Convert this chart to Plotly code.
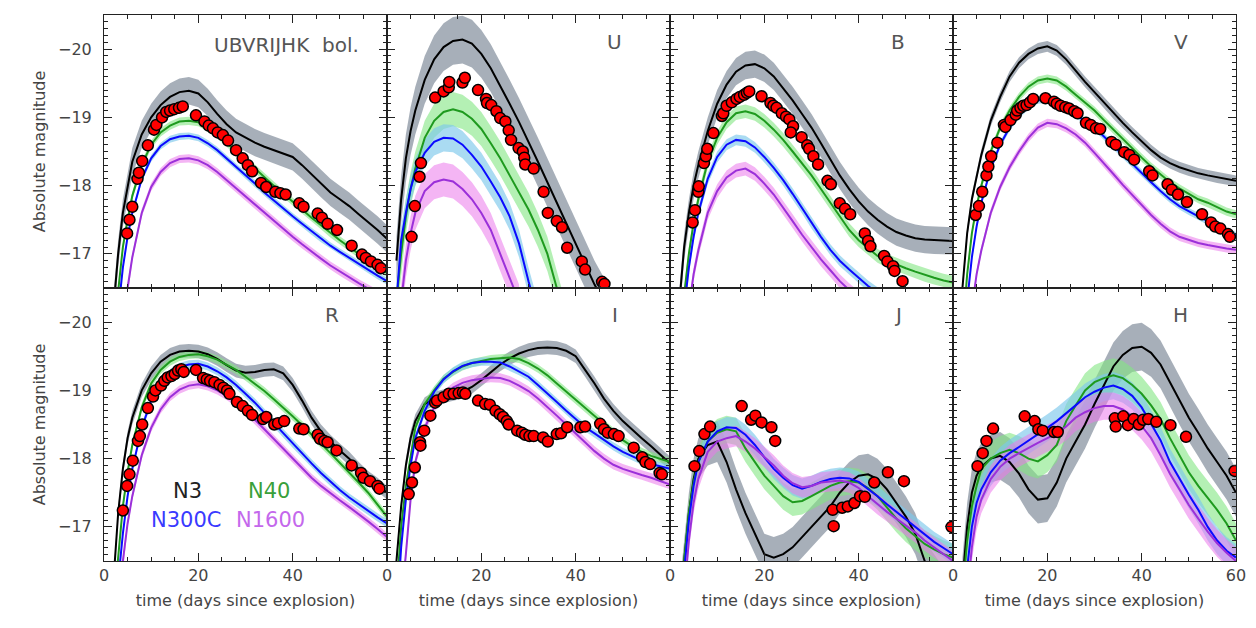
import plotly.graph_objects as go
from plotly.subplots import make_subplots

# model time grid (days since explosion)
days = [2, 3, 4, 5, 6, 8, 10, 12, 14, 16, 18, 20, 22, 24, 26, 28, 30, 32,
        34, 36, 38, 40, 42, 44, 46, 48, 50, 52, 54, 56, 58, 60]

# ---- model light curves (absolute magnitude) ----
bol_n3 = [-16.2, -17.0, -17.6, -18.0, -18.35, -18.75, -19.0, -19.18, -19.3, -19.37, -19.39, -19.35, -19.22, -19.05, -18.9, -18.78,
          -18.7, -18.63, -18.57, -18.52, -18.47, -18.42, -18.3, -18.17, -18.03, -17.9, -17.8, -17.7, -17.58, -17.47, -17.35, -17.22]
bol_n40 = [-15.8, -16.5, -17.1, -17.5, -17.85, -18.3, -18.6, -18.78, -18.88, -18.94, -18.95, -18.93, -18.85, -18.75, -18.63, -18.5,
           -18.38, -18.25, -18.12, -18.0, -17.88, -17.77, -17.65, -17.53, -17.42, -17.3, -17.2, -17.1, -17.0, -16.9, -16.8, -16.72]
bol_n300c = [-15.5, -16.2, -16.8, -17.25, -17.6, -18.1, -18.4, -18.58, -18.68, -18.72, -18.73, -18.7, -18.62, -18.52, -18.4, -18.28,
             -18.15, -18.03, -17.9, -17.78, -17.66, -17.55, -17.44, -17.33, -17.22, -17.12, -17.03, -16.94, -16.85, -16.77, -16.68, -16.6]
bol_n1600 = [-14.5, -15.3, -15.9, -16.5, -16.95, -17.6, -17.98, -18.2, -18.33, -18.39, -18.4, -18.37, -18.3, -18.2, -18.08, -17.96,
             -17.84, -17.72, -17.6, -17.48, -17.36, -17.25, -17.14, -17.03, -16.93, -16.83, -16.74, -16.65, -16.57, -16.49, -16.41, -16.34]

u_n3 = [-16.9, -17.8, -18.4, -18.8, -19.1, -19.55, -19.85, -20.03, -20.12, -20.14, -20.08, -19.93, -19.72, -19.47, -19.2, -18.93,
        -18.65, -18.35, -18.05, -17.75, -17.45, -17.15, -16.85, -16.55, -16.3, None, None, None, None, None, None, None]
u_n40 = [-16.3, -17.0, -17.55, -17.95, -18.25, -18.7, -18.95, -19.08, -19.12, -19.08, -18.98, -18.83, -18.62, -18.4, -18.15, -17.9,
         -17.65, -17.35, -17.0, -16.5, -16.0, None, None, None, None, None, None, None, None, None, None, None]
u_n300c = [-16.3, -17.2, -17.6, -17.95, -18.2, -18.48, -18.64, -18.7, -18.69, -18.6, -18.45, -18.28, -18.06, -17.83, -17.55, -17.15,
           -16.6, -16.1, None, None, None, None, None, None, None, None, None, None, None, None, None, None]
u_n1600 = [-15.2, -16.3, -16.9, -17.3, -17.6, -17.92, -18.05, -18.09, -18.06, -17.95, -17.8, -17.6, -17.35, -17.0, -16.65, -16.3,
           None, None, None, None, None, None, None, None, None, None, None, None, None, None, None, None]

b_n3 = [-16.3, -17.1, -17.6, -18.0, -18.3, -18.8, -19.2, -19.48, -19.67, -19.76, -19.78, -19.72, -19.6, -19.43, -19.25, -19.05,
        -18.85, -18.62, -18.38, -18.15, -17.95, -17.77, -17.62, -17.5, -17.4, -17.32, -17.27, -17.23, -17.21, -17.2, -17.19, -17.19]
b_n40 = [-15.6, -16.4, -17.0, -17.45, -17.8, -18.35, -18.7, -18.93, -19.06, -19.09, -19.05, -18.95, -18.82, -18.67, -18.5, -18.33,
         -18.15, -17.95, -17.75, -17.55, -17.35, -17.2, -17.08, -16.97, -16.9, -16.84, -16.79, -16.74, -16.69, -16.65, -16.61, -16.58]
b_n300c = [-15.3, -16.2, -16.8, -17.25, -17.6, -18.1, -18.42, -18.6, -18.67, -18.65, -18.56, -18.42, -18.26, -18.08, -17.88, -17.67,
           -17.45, -17.25, -17.06, -16.9, -16.77, -16.65, -16.53, -16.43, None, None, None, None, None, None, None, None]
b_n1600 = [-14.6, -15.6, -16.2, -16.7, -17.05, -17.6, -17.92, -18.12, -18.22, -18.25, -18.17, -18.03, -17.87, -17.68, -17.48, -17.28,
           -17.1, -16.92, -16.76, -16.6, -16.47, -16.35, None, None, None, None, None, None, None, None, None, None]

v_n3 = [-16.5, -17.3, -17.8, -18.15, -18.45, -18.95, -19.3, -19.6, -19.8, -19.93, -20.01, -20.04, -19.98, -19.85, -19.68, -19.52,
        -19.37, -19.22, -19.06, -18.92, -18.78, -18.65, -18.52, -18.41, -18.33, -18.27, -18.22, -18.18, -18.15, -18.12, -18.09, -18.07]
v_n40 = [-15.8, -16.7, -17.3, -17.7, -18.0, -18.5, -18.85, -19.1, -19.3, -19.45, -19.54, -19.57, -19.54, -19.45, -19.33, -19.22,
         -19.1, -18.96, -18.82, -18.68, -18.55, -18.41, -18.28, -18.16, -18.05, -17.96, -17.88, -17.8, -17.75, -17.68, -17.62, -17.58]
v_n300c = [-15.4, -16.3, -16.95, -17.4, -17.75, -18.25, -18.6, -18.85, -19.03, -19.17, -19.25, -19.26, -19.22, -19.14, -19.04, -18.95,
           -18.85, -18.72, -18.58, -18.45, -18.32, -18.18, -18.05, -17.92, -17.8, -17.7, -17.62, -17.55, -17.48, -17.4, -17.33, -17.27]
v_n1600 = [-14.5, -15.5, -16.2, -16.7, -17.05, -17.6, -17.98, -18.27, -18.5, -18.7, -18.85, -18.92, -18.9, -18.84, -18.75, -18.63,
           -18.48, -18.33, -18.17, -18.01, -17.86, -17.71, -17.57, -17.44, -17.33, -17.25, -17.2, -17.16, -17.13, -17.1, -17.08, -17.06]

r_n3 = [-16.2, -17.2, -17.85, -18.3, -18.6, -19.0, -19.25, -19.42, -19.52, -19.57, -19.58, -19.57, -19.53, -19.46, -19.37, -19.29,
        -19.26, -19.27, -19.3, -19.31, -19.25, -19.08, -18.85, -18.6, -18.4, -18.25, -18.12, -18.0, -17.85, -17.72, -17.62, -17.5]
r_n40 = [-15.8, -16.6, -17.3, -17.8, -18.2, -18.75, -19.1, -19.3, -19.42, -19.49, -19.52, -19.53, -19.5, -19.45, -19.38, -19.3,
         -19.2, -19.1, -18.99, -18.87, -18.75, -18.62, -18.49, -18.36, -18.22, -18.08, -17.94, -17.8, -17.65, -17.5, -17.33, -17.15]
r_n300c = [-15.3, -16.2, -16.9, -17.45, -17.85, -18.45, -18.85, -19.1, -19.25, -19.34, -19.38, -19.39, -19.35, -19.28, -19.19, -19.08,
           -18.95, -18.82, -18.67, -18.52, -18.37, -18.22, -18.07, -17.93, -17.79, -17.66, -17.54, -17.43, -17.33, -17.23, -17.14, -17.05]
r_n1600 = [-14.8, -15.7, -16.5, -17.05, -17.45, -18.05, -18.45, -18.72, -18.9, -19.01, -19.07, -19.09, -19.06, -19.0, -18.92, -18.82,
           -18.7, -18.57, -18.43, -18.29, -18.15, -18.0, -17.86, -17.72, -17.6, -17.49, -17.39, -17.29, -17.19, -17.08, -16.97, -16.85]

i_n3 = [-16.5, -17.3, -17.9, -18.3, -18.55, -18.8, -18.88, -18.92, -18.95, -18.98, -19.05, -19.15, -19.27, -19.38, -19.47, -19.54,
        -19.59, -19.62, -19.63, -19.62, -19.58, -19.5, -19.3, -19.1, -18.88, -18.7, -18.55, -18.42, -18.3, -18.18, -18.05, -17.93]
i_n40 = [-16.0, -17.0, -17.6, -18.05, -18.45, -18.8, -19.0, -19.17, -19.27, -19.35, -19.4, -19.43, -19.46, -19.47, -19.48, -19.46,
         -19.4, -19.32, -19.22, -19.1, -18.98, -18.86, -18.74, -18.62, -18.5, -18.38, -18.27, -18.18, -18.1, -18.04, -17.99, -17.95]
i_n300c = [-15.6, -16.7, -17.4, -17.9, -18.3, -18.7, -18.98, -19.16, -19.28, -19.36, -19.4, -19.42, -19.42, -19.41, -19.35, -19.28,
           -19.2, -19.08, -18.96, -18.83, -18.7, -18.58, -18.46, -18.37, -18.27, -18.18, -18.1, -18.03, -17.97, -17.92, -17.88, -17.85]
i_n1600 = [-14.8, -15.9, -16.6, -17.4, -17.95, -18.45, -18.75, -18.93, -19.04, -19.11, -19.15, -19.17, -19.19, -19.18, -19.14, -19.07,
           -18.99, -18.88, -18.76, -18.63, -18.5, -18.37, -18.24, -18.11, -18.0, -17.91, -17.85, -17.8, -17.76, -17.72, -17.67, -17.62]

j_n3 = [-15.8, -16.5, -17.2, -17.7, -18.0, -18.2, -18.25, -17.95, -17.55, -17.2, -16.9, -16.6, -16.55, -16.6, -16.7, -16.85,
        -17.0, -17.15, -17.3, -17.5, -17.65, -17.75, -17.77, -17.7, -17.55, -17.35, -17.15, -16.9, -16.5, -16.3, -16.1, -15.9]
j_n40 = [-15.8, -16.5, -17.2, -17.65, -17.95, -18.25, -18.38, -18.43, -18.4, -18.15, -17.95, -17.75, -17.6, -17.45, -17.36, -17.38,
         -17.45, -17.53, -17.6, -17.65, -17.67, -17.65, -17.57, -17.45, -17.28, -17.12, -16.98, -16.86, -16.75, -16.67, -16.6, -16.55]
j_n300c = [-15.6, -16.4, -17.1, -17.6, -17.95, -18.25, -18.4, -18.46, -18.45, -18.35, -18.2, -18.02, -17.85, -17.72, -17.61, -17.56,
           -17.6, -17.66, -17.7, -17.72, -17.71, -17.66, -17.56, -17.45, -17.33, -17.22, -17.11, -17.0, -16.88, -16.78, -16.69, -16.6]
j_n1600 = [-15.0, -16.0, -16.8, -17.35, -17.7, -18.1, -18.25, -18.3, -18.33, -18.25, -18.15, -18.03, -17.9, -17.75, -17.64, -17.58,
           -17.6, -17.65, -17.67, -17.68, -17.65, -17.57, -17.45, -17.33, -17.22, -17.12, -17.02, -16.92, -16.8, -16.7, -16.6, -16.5]

h_n3 = [-16.2, -17.0, -17.5, -17.75, -17.88, -18.0, -18.04, -17.95, -17.78, -17.55, -17.4, -17.42, -17.65, -18.0, -18.25, -18.5,
        -18.8, -19.08, -19.35, -19.52, -19.62, -19.64, -19.55, -19.38, -19.12, -18.85, -18.6, -18.38, -18.15, -17.95, -17.75, -17.5]
h_n40 = [-16.0, -16.8, -17.3, -17.6, -17.85, -18.0, -18.08, -18.13, -18.08, -18.0, -17.96, -18.05, -18.2, -18.55, -18.78, -19.0,
         -19.12, -19.18, -19.22, -19.18, -19.08, -18.95, -18.78, -18.58, -18.3, -18.05, -17.8, -17.6, -17.42, -17.25, -17.05, -16.8]
h_n300c = [-15.2, -16.4, -17.0, -17.35, -17.55, -17.8, -17.97, -18.08, -18.17, -18.26, -18.36, -18.45, -18.55, -18.66, -18.78, -18.9,
           -18.98, -19.04, -19.07, -19.02, -18.92, -18.75, -18.52, -18.27, -17.95, -17.7, -17.47, -17.25, -17.0, -16.8, -16.65, -16.55]
h_n1600 = [-14.8, -16.0, -16.7, -17.15, -17.4, -17.7, -17.88, -18.0, -18.08, -18.16, -18.23, -18.3, -18.37, -18.47, -18.6, -18.68,
           -18.74, -18.77, -18.77, -18.72, -18.62, -18.48, -18.3, -18.05, -17.78, -17.55, -17.32, -17.12, -16.93, -16.76, -16.62, -16.5]

# model scatter (half width in mag), order N3, N40, N300C, N1600
bol_err = [0.2, 0.06, 0.05, 0.06]
u_err = [0.35, 0.25, 0.2, 0.25]
b_err = [0.2, 0.1, 0.08, 0.1]
v_err = [0.08, 0.06, 0.05, 0.06]
r_err = [0.1, 0.06, 0.06, 0.06]
i_err = [0.1, 0.06, 0.06, 0.07]
j_err = [0.3, 0.2, 0.15, 0.15]
h_err = [0.35, 0.25, 0.2, 0.2]

# ---- observed photometry ----
bol_obs_t = [4.9, 5.4, 6.0, 7.1, 7.4, 8.1, 9.3, 10.6, 11.1, 12.3, 13.2, 14.0, 14.9, 15.9, 16.7, 19.5, 21.3, 22.2, 23.1, 24.1, 25.2, 26.3,
             28.0, 29.4, 30.5, 31.4, 33.3, 34.4, 36.3, 37.4, 38.5, 41.4, 42.3, 45.3, 46.2, 47.4, 49.4, 52.5, 54.7, 55.5, 56.6, 58.0, 58.7]
bol_obs_m = [-17.3, -17.5, -17.69, -18.1, -18.19, -18.36, -18.59, -18.82, -18.89, -19.0, -19.08, -19.1, -19.12, -19.14, -19.16, -19.03,
             -18.94, -18.88, -18.84, -18.78, -18.74, -18.66, -18.52, -18.4, -18.3, -18.21, -18.04, -17.98, -17.91, -17.89, -17.87, -17.74,
             -17.69, -17.59, -17.53, -17.44, -17.35, -17.12, -16.99, -16.94, -16.89, -16.84, -16.79]
u_obs_t = [5.2, 5.9, 6.9, 7.2, 10.2, 12.0, 13.1, 13.2, 16.0, 16.5, 19.3, 21.0, 21.2, 22.1, 23.2, 24.0, 25.1, 25.8, 26.3, 27.9, 28.8,
           29.1, 29.3, 31.1, 33.2, 34.1, 36.0, 37.1, 38.2, 41.3, 42.0, 45.6, 46.1]
u_obs_m = [-17.25, -17.7, -18.13, -18.33, -19.29, -19.38, -19.44, -19.52, -19.51, -19.58, -19.4, -19.27, -19.21, -19.18, -19.09, -18.99,
           -18.94, -18.81, -18.67, -18.55, -18.5, -18.41, -18.31, -18.25, -17.91, -17.6, -17.48, -17.39, -17.09, -16.89, -16.77, -16.59, -16.56]
b_obs_t = [4.8, 5.3, 6.0, 6.1, 7.2, 7.6, 7.9, 9.2, 11.0, 11.3, 12.0, 13.1, 14.1, 14.8, 15.7, 16.3, 16.8, 19.4, 21.3, 21.9, 22.6, 23.7,
           24.6, 25.3, 26.1, 25.6, 27.9, 29.1, 29.5, 30.4, 31.4, 33.4, 34.1, 36.0, 37.1, 38.2, 41.3, 42.0, 42.5, 45.4, 46.1, 47.3, 47.6, 49.3]
b_obs_m = [-17.46, -17.64, -17.91, -17.99, -18.33, -18.43, -18.54, -18.77, -19.02, -19.06, -19.17, -19.22, -19.27, -19.3, -19.33, -19.36,
           -19.38, -19.31, -19.21, -19.17, -19.14, -19.06, -19.01, -18.97, -18.87, -18.78, -18.71, -18.59, -18.54, -18.43, -18.31, -18.07,
           -18.02, -17.74, -17.66, -17.58, -17.3, -17.19, -17.11, -16.97, -16.89, -16.82, -16.75, -16.6]
v_obs_t = [4.8, 5.5, 6.2, 7.1, 7.5, 8.1, 9.4, 10.8, 11.1, 12.2, 13.3, 13.6, 14.3, 14.9, 15.6, 16.3, 17.0, 19.6, 21.4, 22.0, 22.8, 23.8,
           24.6, 25.7, 26.4, 28.2, 29.2, 30.3, 31.2, 33.6, 34.5, 36.3, 37.4, 38.4, 41.6, 42.3, 45.5, 46.4, 47.7, 49.6, 52.8, 54.7, 55.6,
           56.7, 58.3, 58.7]
v_obs_m = [-17.57, -17.7, -17.91, -18.15, -18.28, -18.43, -18.63, -18.89, -18.86, -18.96, -19.04, -19.1, -19.14, -19.17, -19.18, -19.22,
           -19.27, -19.28, -19.23, -19.2, -19.17, -19.15, -19.13, -19.09, -19.06, -18.92, -18.89, -18.84, -18.83, -18.64, -18.6, -18.49,
           -18.45, -18.38, -18.21, -18.15, -18.02, -17.94, -17.87, -17.76, -17.58, -17.46, -17.4, -17.37, -17.29, -17.25]
r_obs_t = [4.0, 4.9, 5.4, 6.1, 7.2, 7.6, 8.1, 9.3, 10.4, 10.9, 12.1, 12.8, 13.5, 14.3, 15.0, 15.7, 16.4, 16.9, 19.5, 21.0, 21.8, 22.5,
           23.4, 24.5, 25.3, 26.1, 26.6, 28.2, 29.4, 30.5, 31.4, 33.7, 34.4, 36.1, 36.9, 38.2, 41.4, 42.3, 45.3, 45.8, 46.7, 47.4, 49.3,
           52.5, 54.5, 55.0, 56.4, 58.0, 58.4]
r_obs_m = [-17.24, -17.6, -17.77, -17.97, -18.26, -18.33, -18.5, -18.74, -18.91, -19.0, -19.07, -19.14, -19.19, -19.21, -19.24, -19.29,
           -19.31, -19.27, -19.3, -19.18, -19.16, -19.14, -19.12, -19.08, -19.04, -19.0, -18.95, -18.83, -18.77, -18.7, -18.64, -18.58,
           -18.61, -18.5, -18.52, -18.55, -18.44, -18.43, -18.35, -18.29, -18.26, -18.24, -18.12, -17.9, -17.79, -17.72, -17.67, -17.6, -17.56]
i_obs_t = [4.6, 5.3, 5.9, 7.0, 7.1, 7.9, 9.2, 10.2, 10.6, 12.0, 13.1, 14.1, 15.2, 16.1, 16.6, 19.3, 20.8, 21.8, 23.0, 23.9, 24.6, 25.4,
           25.8, 27.6, 28.6, 29.3, 30.2, 31.1, 33.1, 34.1, 36.0, 36.9, 38.2, 41.0, 42.0, 45.2, 46.0, 46.8, 48.1, 49.1, 52.3, 54.1, 54.8,
           55.8, 57.8, 58.3]
i_obs_m = [-17.48, -17.65, -17.87, -18.24, -18.19, -18.41, -18.63, -18.82, -18.85, -18.9, -18.95, -18.95, -18.96, -18.97, -18.95, -18.85,
           -18.8, -18.79, -18.7, -18.65, -18.61, -18.55, -18.5, -18.41, -18.38, -18.35, -18.33, -18.33, -18.31, -18.25, -18.36, -18.37,
           -18.46, -18.46, -18.47, -18.51, -18.43, -18.38, -18.36, -18.33, -18.16, -18.02, -17.95, -17.92, -17.79, -17.77]
j_obs_t = [5.2, 6.2, 7.3, 8.5, 15.2, 17.2, 18.1, 19.4, 21.5, 22.3, 34.5, 34.7, 36.5, 37.7, 39.1, 40.3, 41.3, 43.3, 46.2, 49.6, 59.7]
j_obs_m = [-17.89, -18.11, -18.36, -18.47, -18.77, -18.57, -18.63, -18.53, -18.46, -18.26, -17.25, -17.01, -17.28, -17.3, -17.35,
           -17.45, -17.44, -17.65, -17.8, -17.67, -17.0]
h_obs_t = [5.2, 6.3, 7.1, 8.5, 15.2, 17.3, 18.1, 19.0, 21.4, 22.2, 34.3, 34.5, 36.1, 37.1, 38.3, 39.4, 40.3, 41.4, 43.1, 46.1, 49.4, 59.7]
h_obs_m = [-17.89, -18.08, -18.26, -18.44, -18.62, -18.55, -18.43, -18.41, -18.39, -18.39, -18.59, -18.47, -18.62, -18.49, -18.58,
           -18.5, -18.57, -18.58, -18.54, -18.49, -18.32, -17.82]

models = ['N3', 'N40', 'N300C', 'N1600']
line_colors = ['#000000', '#1e9a1e', '#0a0aff', '#9b30d9']
band_colors = ['rgba(95,110,128,0.55)', 'rgba(130,230,130,0.6)', 'rgba(125,200,235,0.65)', 'rgba(235,120,235,0.55)']

panels = [
    ('UBVRIJHK  bol.', [bol_n3, bol_n40, bol_n300c, bol_n1600], bol_err, bol_obs_t, bol_obs_m),
    ('U', [u_n3, u_n40, u_n300c, u_n1600], u_err, u_obs_t, u_obs_m),
    ('B', [b_n3, b_n40, b_n300c, b_n1600], b_err, b_obs_t, b_obs_m),
    ('V', [v_n3, v_n40, v_n300c, v_n1600], v_err, v_obs_t, v_obs_m),
    ('R', [r_n3, r_n40, r_n300c, r_n1600], r_err, r_obs_t, r_obs_m),
    ('I', [i_n3, i_n40, i_n300c, i_n1600], i_err, i_obs_t, i_obs_m),
    ('J', [j_n3, j_n40, j_n300c, j_n1600], j_err, j_obs_t, j_obs_m),
    ('H', [h_n3, h_n40, h_n300c, h_n1600], h_err, h_obs_t, h_obs_m),
]

fig = make_subplots(rows=2, cols=4, horizontal_spacing=0, vertical_spacing=0)

font = 'DejaVu Sans'
grey = '#444444'

for k, (label, curves, err, obs_t, obs_m) in enumerate(panels):
    row, col = k // 4 + 1, k % 4 + 1
    # scatter bands first
    for curve, e, bc in zip(curves, err, band_colors):
        xs = [t for t, m in zip(days, curve) if m is not None]
        ms = [m for m in curve if m is not None]
        hi = [m - e for m in ms]
        lo = [m + e for m in ms]
        fig.add_trace(go.Scatter(x=xs + xs[::-1], y=hi + lo[::-1], fill='toself', fillcolor=bc,
                                 mode='lines', line=dict(width=0), hoverinfo='skip'), row=row, col=col)
    for curve, lc, name in zip(curves, line_colors, models):
        fig.add_trace(go.Scatter(x=days, y=curve, mode='lines', name=name,
                                 line=dict(color=lc, width=2)), row=row, col=col)
    fig.add_trace(go.Scatter(x=obs_t, y=obs_m, mode='markers', name='data',
                             marker=dict(size=11, color='#ff0000', line=dict(color='black', width=1.5))),
                  row=row, col=col)

    xref = 'x' if k == 0 else f'x{k + 1}'
    yref = 'y' if k == 0 else f'y{k + 1}'
    if k == 0:
        fig.add_annotation(x=54.5, y=-20.06, xref=xref, yref=yref, text=label, showarrow=False,
                           xanchor='right', font=dict(family=font, size=20, color='#555555'))
    else:
        fig.add_annotation(x=48.3, y=-20.1, xref=xref, yref=yref, text=label, showarrow=False,
                           font=dict(family=font, size=20, color='#555555'))

    ticktext = ['0', '20', '40', '60' if col == 4 else '']
    fig.update_xaxes(range=[0, 60], tickmode='array', tickvals=[0, 20, 40, 60], ticktext=ticktext,
                     ticks='inside', ticklen=8, tickcolor='#222',
                     minor=dict(dtick=5, tick0=0, ticks='inside', ticklen=4, tickcolor='#222'),
                     showline=True, mirror='ticks', linecolor='#222', linewidth=1,
                     showgrid=False, zeroline=False, showticklabels=(row == 2),
                     tickfont=dict(family=font, size=16, color=grey), row=row, col=col)
    fig.update_yaxes(range=[-16.5, -20.5], tickmode='array', tickvals=[-20, -19, -18, -17],
                     ticks='inside', ticklen=8, tickcolor='#222',
                     minor=dict(dtick=0.1, tick0=0, ticks='inside', ticklen=4, tickcolor='#222'),
                     showline=True, mirror='ticks', linecolor='#222', linewidth=1,
                     showgrid=False, zeroline=False, showticklabels=(col == 1),
                     tickfont=dict(family=font, size=16, color=grey), ticklabelstandoff=8,
                     row=row, col=col)
    if row == 2:
        fig.update_xaxes(title=dict(text='time (days since explosion)', standoff=10,
                                    font=dict(family=font, size=16, color=grey)), row=row, col=col)
    if col == 1:
        fig.update_yaxes(title=dict(text='Absolute magnitude', standoff=8,
                                    font=dict(family=font, size=16, color=grey)), row=row, col=col)

# model legend inside the R panel
legend_pos = [(17.8, -17.52), (35.0, -17.52), (17.4, -17.1), (35.4, -17.1)]
legend_text_colors = ['#222222', '#3aa03a', '#3a3aff', '#c468ec']
for name, (lx, ly), tc in zip(models, legend_pos, legend_text_colors):
    fig.add_annotation(x=lx, y=ly, xref='x5', yref='y5', text=name, showarrow=False,
                       font=dict(family=font, size=21, color=tc))

# page body adds an 8 px offset, margins compensate for it
fig.update_layout(width=1256, height=628, showlegend=False,
                  margin=dict(l=96, r=28, t=7, b=75),
                  paper_bgcolor='white', plot_bgcolor='white')

fig.write_html("out.html")
